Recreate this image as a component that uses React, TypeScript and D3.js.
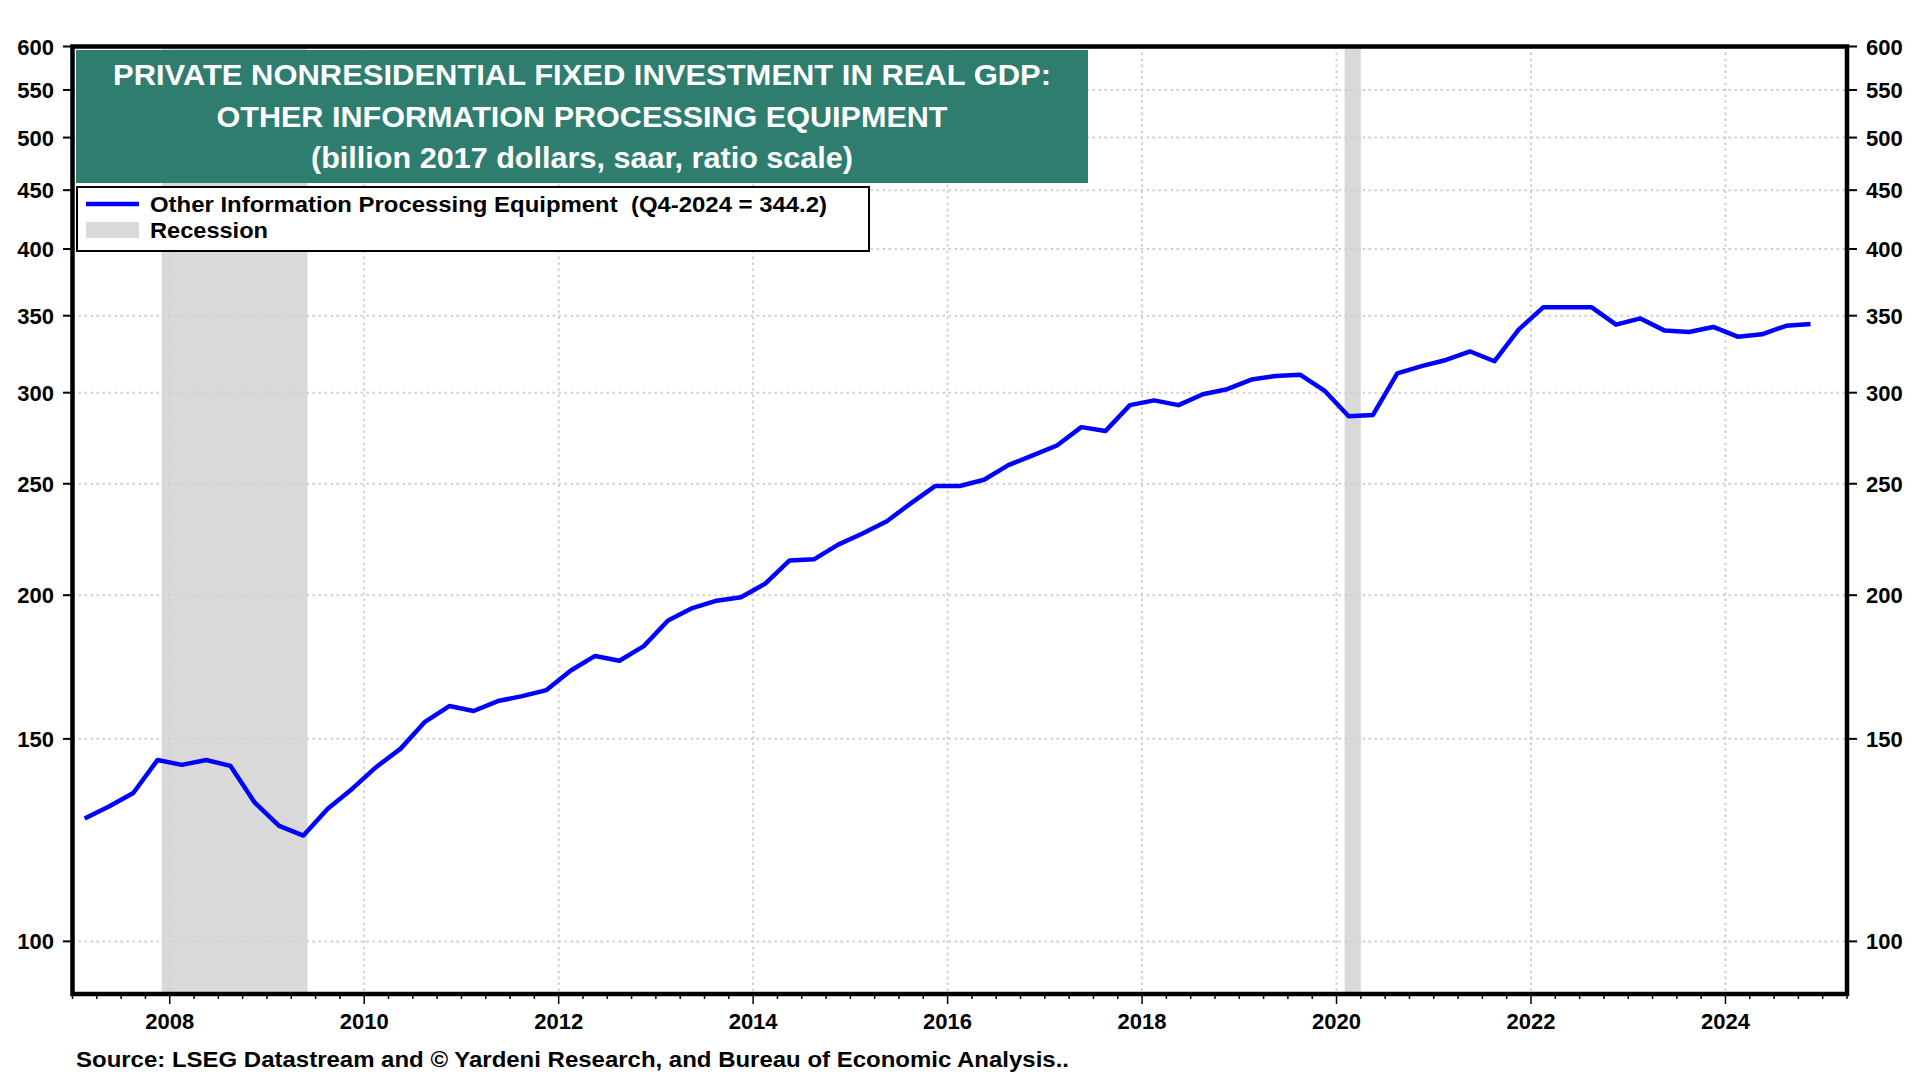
import React from "react";
import * as d3 from "d3";

const START_YEAR = 2007; // first quarter = Q1 2007, quarterly to Q4 2024
const values: number[] = [
  127.9, 131.0, 134.6, 143.8,
  142.4, 143.8, 142.1, 132.0,
  126.0, 123.6, 130.4, 135.7,
  141.8, 147.1, 155.2, 160.2,
  158.6, 161.8, 163.4, 165.4,
  172.0, 177.1, 175.4, 180.6,
  190.1, 194.9, 197.8, 199.2,
  204.7, 214.4, 214.9, 221.3,
  226.3, 231.9, 240.5, 248.9,
  248.9, 252.0, 259.5, 264.6,
  269.9, 280.0, 277.9, 292.6,
  295.4, 292.6, 299.1, 302.1,
  308.0, 310.2, 311.0, 301.3,
  286.2, 286.9, 311.8, 316.4,
  320.3, 325.8, 319.5, 340.5,
  355.9, 355.9, 355.9, 343.8,
  348.1, 339.7, 338.8, 342.2,
  335.6, 337.2, 343.0, 344.2,
];
const recessions: [number, number][] = [
  [2007.917, 2009.417],
  [2020.083, 2020.25],
];
const yTicks = [100, 150, 200, 250, 300, 350, 400, 450, 500, 550, 600];
const xTickYears = [2008, 2010, 2012, 2014, 2016, 2018, 2020, 2022, 2024];
const titleLines = [
  "PRIVATE NONRESIDENTIAL FIXED INVESTMENT IN REAL GDP:",
  "OTHER INFORMATION PROCESSING EQUIPMENT",
  "(billion 2017 dollars, saar, ratio scale)",
];
const titleWidths = [938, 731, 542];
const legendSeries = "Other Information Processing Equipment  (Q4-2024 = 344.2)";
const legendRecession = "Recession";
const sourceText =
  "Source: LSEG Datastream and \u00A9 Yardeni Research, and Bureau of Economic Analysis..";

const FONT = "'Liberation Sans', Arial, sans-serif";

export default function App() {
  const left = 72.5, right = 1847, top = 46.5, bottom = 994;
  const x = d3.scaleLinear().domain([2007, 2025.25]).range([left, right]);
  const y = d3.scaleLog().domain([90, 600]).range([bottom, top]);

  const pts = values.map((v, i) => ({ t: START_YEAR + i * 0.25 + 0.125, v }));
  const line = d3
    .line<{ t: number; v: number }>()
    .x((d) => x(d.t))
    .y((d) => y(d.v));

  const quarterTicks = d3.range(2007, 2025.25 + 0.001, 0.25);

  const grid = "#d0d0d0";
  const dash = "2.5,3.5";

  return (
    <svg
      width={1920}
      height={1080}
      style={{ position: "absolute", left: 0, top: 0, background: "#fff" }}
      fontFamily={FONT}
      fontWeight="bold"
    >
      <rect x={0} y={0} width={1920} height={1080} fill="#fff" />
      {recessions.map(([a, b], i) => (
        <rect key={i} x={x(a)} y={top} width={x(b) - x(a)} height={bottom - top} fill="#d9d9d9" />
      ))}
      {yTicks.filter((t) => t < 600).map((t) => (
        <line key={"gy" + t} x1={left} x2={right} y1={y(t)} y2={y(t)} stroke={grid} strokeWidth={2} strokeDasharray={dash} />
      ))}
      {xTickYears.map((t) => (
        <line key={"gx" + t} x1={x(t)} x2={x(t)} y1={top} y2={bottom} stroke={grid} strokeWidth={2} strokeDasharray={dash} />
      ))}
      <path d={line(pts) || ""} fill="none" stroke="#0000ff" strokeWidth={4.5} strokeLinejoin="round" />
      <rect x={76} y={50} width={1012} height={133} fill="#2e7d6f" />
      {titleLines.map((t, i) => (
        <text
          key={i}
          x={582}
          y={85 + i * 41.5}
          textAnchor="middle"
          fill="#fff"
          fontSize={30}
          textLength={titleWidths[i]}
          lengthAdjust="spacingAndGlyphs"
        >
          {t}
        </text>
      ))}
      <rect x={77} y={187} width={792} height={64} fill="#fff" stroke="#000" strokeWidth={2} />
      <line x1={86} x2={139} y1={204} y2={204} stroke="#0000ff" strokeWidth={4.5} />
      <text
        x={150}
        y={211.5}
        fontSize={22}
        fill="#000"
        style={{ whiteSpace: "pre" }}
        textLength={677}
        lengthAdjust="spacingAndGlyphs"
      >
        {legendSeries}
      </text>
      <rect x={86} y={222} width={53} height={16} fill="#d9d9d9" />
      <text x={150} y={237.5} fontSize={22} fill="#000" textLength={118} lengthAdjust="spacingAndGlyphs">
        {legendRecession}
      </text>
      {yTicks.map((t) => (
        <g key={"yt" + t}>
          <line x1={63} x2={left} y1={y(t)} y2={y(t)} stroke="#000" strokeWidth={2} />
          <text x={54} y={y(t) + 8} textAnchor="end" fontSize={22} fill="#000">
            {t}
          </text>
          <line x1={right} x2={1857} y1={y(t)} y2={y(t)} stroke="#000" strokeWidth={2} />
          <text x={1866} y={y(t) + 8} textAnchor="start" fontSize={22} fill="#000">
            {t}
          </text>
        </g>
      ))}
      {quarterTicks.map((t, i) => {
        const major = xTickYears.includes(Math.round(t * 100) / 100);
        return (
          <line key={"xt" + i} x1={x(t)} x2={x(t)} y1={bottom} y2={bottom + (major ? 10 : 5)} stroke="#000" strokeWidth={1.5} />
        );
      })}
      {xTickYears.map((t) => (
        <text key={"xl" + t} x={x(t)} y={1029} textAnchor="middle" fontSize={22} fill="#000">
          {t}
        </text>
      ))}
      <rect x={left} y={top} width={right - left} height={bottom - top} fill="none" stroke="#000" strokeWidth={4.5} />
      <text x={76} y={1067} fontSize={22} fill="#000" textLength={993} lengthAdjust="spacingAndGlyphs">
        {sourceText}
      </text>
    </svg>
  );
}
